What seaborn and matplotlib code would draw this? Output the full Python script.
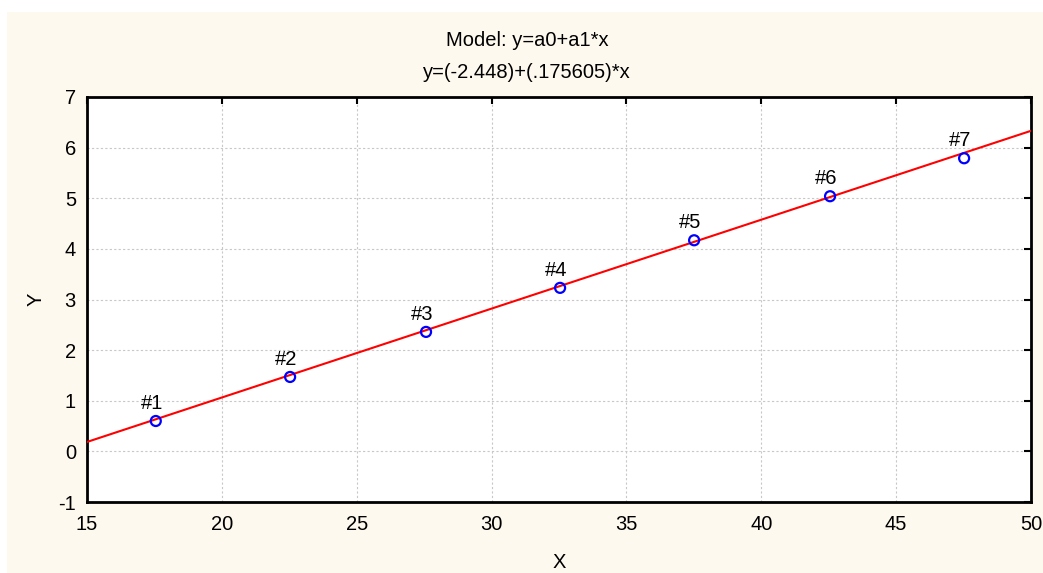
import matplotlib
matplotlib.use("Agg")
import matplotlib.pyplot as plt
from matplotlib.patches import Rectangle
import numpy as np
import pandas as pd
import seaborn as sns

# Observations
case_labels = ["#1", "#2", "#3", "#4", "#5", "#6", "#7"]
x_values = [17.55, 22.53, 27.57, 32.54, 37.51, 42.55, 47.52]
y_values = [0.60, 1.47, 2.36, 3.23, 4.17, 5.04, 5.79]

# Fitted model y = a0 + a1*x
a0 = -2.448
a1 = 0.175605

x_ticks = [15, 20, 25, 30, 35, 40, 45, 50]
y_ticks = [-1, 0, 1, 2, 3, 4, 5, 6, 7]

FS = 14.5

sns.set_theme(style="white")
plt.rcParams["font.family"] = ["Liberation Sans", "DejaVu Sans"]
plt.rcParams["text.color"] = "black"
plt.rcParams["axes.labelcolor"] = "black"
plt.rcParams["axes.unicode_minus"] = False

fig = plt.figure(figsize=(10.43, 5.73), dpi=100, facecolor="white")
# cream panel behind the chart
fig.patches.append(Rectangle((7 / 1043, 0), 1 - 7 / 1043, 1 - 12 / 573,
                             transform=fig.transFigure, facecolor="#fef9ee",
                             edgecolor="none", zorder=-10))
ax = fig.add_axes([87 / 1043, 1 - 502 / 573, (1031 - 87) / 1043, (502 - 97) / 573])
ax.set_facecolor("white")
ax.set_zorder(1)

df = pd.DataFrame({"x": x_values, "y": y_values, "case": case_labels})

fit_x = np.array([x_ticks[0], x_ticks[-1]], dtype=float)
fit = pd.DataFrame({"x": fit_x, "y": a0 + a1 * fit_x})
sns.lineplot(data=fit, x="x", y="y", ax=ax, color="#ff0000", linewidth=1.5, zorder=3)

sns.scatterplot(data=df, x="x", y="y", ax=ax, marker="o", s=52,
                facecolors="none", edgecolor="#0000ff", linewidth=1.6, zorder=4)

for xv, yv, lab in zip(x_values, y_values, case_labels):
    ax.annotate(lab, (xv, yv), xytext=(-3, 6), textcoords="offset points",
                ha="center", va="bottom", fontsize=FS, color="black")

ax.set_xlim(x_ticks[0], x_ticks[-1])
ax.set_ylim(y_ticks[0], y_ticks[-1])
ax.set_xticks(x_ticks)
ax.set_yticks(y_ticks)
ax.tick_params(axis="both", which="both", direction="in", length=5, width=1.5,
               top=True, right=True, labelsize=FS, colors="black", pad=8)
ax.tick_params(axis="x", pad=9)
ax.grid(True, linestyle=(0, (2, 2)), color="#c8c8c8", linewidth=0.8)
for s in ax.spines.values():
    s.set_visible(True)
    s.set_color("black")
    s.set_linewidth(2)

ax.set_xlabel("X", fontsize=FS, labelpad=14)
ax.set_ylabel("Y", fontsize=FS, labelpad=9)

fig.text(527 / 1043, 1 - 41 / 573, "Model: y=a0+a1*x",
         ha="center", va="center", fontsize=FS)
fig.text(527 / 1043, 1 - 73 / 573, "y=(-2.448)+(.175605)*x",
         ha="center", va="center", fontsize=FS)

fig.savefig("out.png", dpi=100, facecolor="white")
